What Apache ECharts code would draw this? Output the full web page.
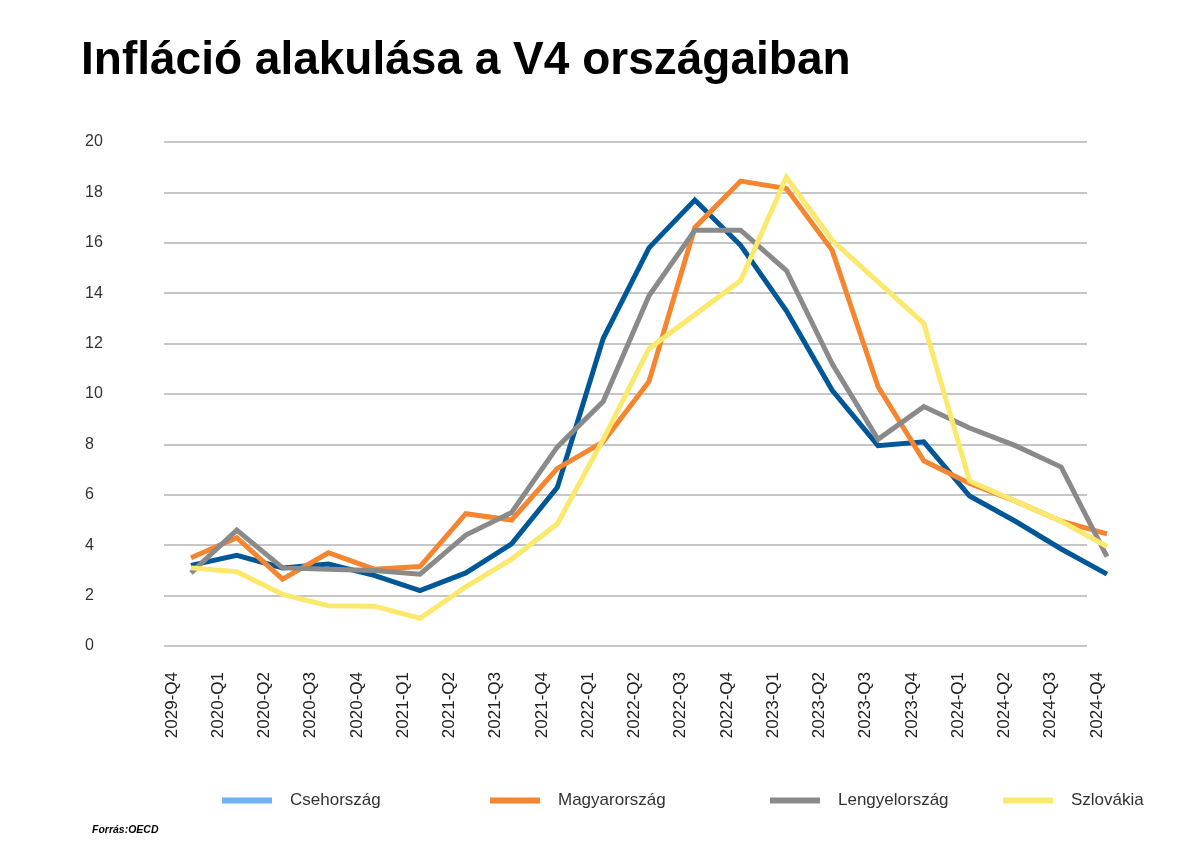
<!DOCTYPE html>
<html>
<head>
<meta charset="utf-8">
<script src="https://cdn.jsdelivr.net/npm/echarts@6/dist/echarts.min.js"></script>
<style>
html,body{margin:0;padding:0;background:#fff;}
#chart{width:1200px;height:863px;}
</style>
</head>
<body>
<div id="chart"></div>
<script>
const categories = ['2029-Q4','2020-Q1','2020-Q2','2020-Q3','2020-Q4','2021-Q1','2021-Q2','2021-Q3','2021-Q4','2022-Q1','2022-Q2','2022-Q3','2022-Q4','2023-Q1','2023-Q2','2023-Q3','2023-Q4','2024-Q1','2024-Q2','2024-Q3','2024-Q4'];
const csehorszag   = [3.2, 3.6, 3.1, 3.25, 2.8, 2.2, 2.9, 4.05, 6.3, 12.2, 15.8, 17.7, 15.9, 13.3, 10.15, 7.95, 8.1, 5.95, 4.95, 3.85, 2.85];
const magyarorszag = [3.5, 4.3, 2.65, 3.7, 3.05, 3.15, 5.25, 5.0, 7.05, 8.1, 10.5, 16.6, 18.45, 18.15, 15.7, 10.3, 7.35, 6.45, 5.75, 4.95, 4.45];
const lengyelorszag= [2.9, 4.6, 3.1, 3.05, 3.0, 2.85, 4.4, 5.3, 7.9, 9.7, 13.9, 16.5, 16.5, 14.9, 11.2, 8.2, 9.5, 8.65, 7.95, 7.1, 3.55];
const szlovakia    = [3.1, 2.95, 2.05, 1.6, 1.58, 1.1, 2.35, 3.45, 4.85, 8.2, 11.8, 13.15, 14.5, 18.6, 16.1, 14.45, 12.8, 6.55, 5.75, 4.95, 3.95];
const seriesNames = ['Csehország','Magyarország','Lengyelország','Szlovákia'];
const yTicks = {min: 0, max: 20, interval: 2};

const lineColors = ['#005797','#f5852f','#8a8a8a','#fbe96d'];
const legendColors = ['#6cb1f3','#f5852f','#8a8a8a','#fbe96d'];
const legendLefts = [222, 490, 770, 1003];
const allData = [csehorszag, magyarorszag, lengyelorszag, szlovakia];

const chart = echarts.init(document.getElementById('chart'), null, {renderer:'canvas'});
const gridTop = 142, gridBottom = 217;

const legends = seriesNames.map((n,i)=>({
  show:true,
  left: legendLefts[i], top: 792, padding:0,
  icon:'rect', itemWidth:50, itemHeight:6,
  data:[{name:n, itemStyle:{color:legendColors[i]}}],
  textStyle:{fontFamily:'Liberation Sans, Arial, sans-serif', fontSize:17, color:'#333', padding:[0,0,0,13]},
  selectedMode:false
}));

const option = {
  backgroundColor:'#ffffff',
  animation:false,
  title:[{
    text:'Infláció alakulása a V4 országaiban',
    left:81, top:38, padding:0,
    textStyle:{fontFamily:'Liberation Sans, Arial, sans-serif', fontWeight:'bold', fontSize:46, color:'#000'}
  },{
    text:'Forrás:OECD',
    left:92, top:825, padding:0,
    textStyle:{fontFamily:'Liberation Sans, Arial, sans-serif', fontStyle:'italic', fontWeight:'bold', fontSize:10.5, color:'#000'}
  }],
  legend: legends,
  grid:[
    {left:191, right:93, top:gridTop, bottom:gridBottom},
    {left:164, right:113, top:gridTop, bottom:gridBottom},
    {left:172, right:103, top:gridTop, bottom:gridBottom}
  ],
  xAxis:[
    {gridIndex:0, type:'category', data:categories, boundaryGap:false, show:false},
    {gridIndex:1, type:'category', data:categories, boundaryGap:false, show:false},
    {gridIndex:2, type:'category', data:categories, boundaryGap:false,
     axisLine:{show:false}, axisTick:{show:false}, splitLine:{show:false},
     axisLabel:{rotate:90, margin:26, interval:0, fontFamily:'Liberation Sans, Arial, sans-serif', fontSize:17, color:'#222'}}
  ],
  yAxis:[
    {gridIndex:0, type:'value', min:yTicks.min, max:yTicks.max, show:false},
    {gridIndex:1, type:'value', min:yTicks.min, max:yTicks.max, interval:yTicks.interval,
     axisLine:{show:false}, axisTick:{show:false},
     splitLine:{show:true, lineStyle:{color:'#b3b3b3', width:1.5}},
     axisLabel:{align:'left', margin:79, fontFamily:'Liberation Sans, Arial, sans-serif', fontSize:16, color:'#333'}},
    {gridIndex:2, type:'value', min:yTicks.min, max:yTicks.max, show:false}
  ],
  series: seriesNames.map((n,i)=>({
    name:n, type:'line', xAxisIndex:0, yAxisIndex:0,
    data: allData[i],
    symbol:'none', smooth:false,
    color: lineColors[i],
    lineStyle:{color:lineColors[i], width:5, cap:'butt', join:'miter'}
  }))
};
chart.setOption(option);
</script>
</body>
</html>
